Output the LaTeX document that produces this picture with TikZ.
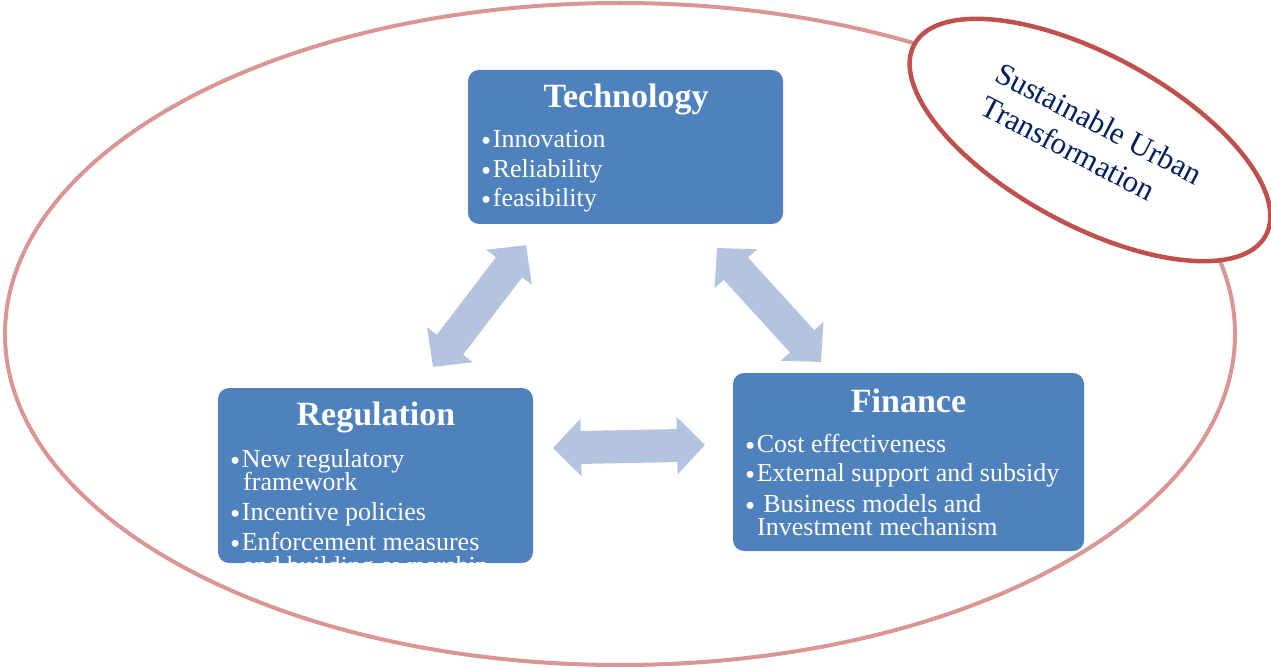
\documentclass[tikz,border=0pt]{standalone}
\usepackage{fontspec}
\setmainfont{Liberation Serif}
\usetikzlibrary{arrows.meta,shapes.geometric}
\definecolor{boxblue}{HTML}{4F81BD}
\definecolor{arrowblue}{RGB}{180,196,222}
\definecolor{bigring}{RGB}{217,150,148}
\definecolor{smallring}{HTML}{C0504D}
\definecolor{navytext}{HTML}{002060}
\newcommand\bigbul{\raisebox{-3pt}{\fontsize{29}{30}\selectfont•}\hspace{1.5pt}}
\begin{document}
\begin{tikzpicture}[x=1pt,y=-1pt,
  boxstyle/.style={draw=none, fill=boxblue, rounded corners=11pt, inner sep=0pt},
  titlestyle/.style={text=white, font=\fontsize{34}{38}\selectfont\bfseries, anchor=base, inner sep=0pt},
  itemstyle/.style={text=white, font=\fontsize{26}{30}\selectfont, anchor=base west, inner sep=0pt},
  dblarrow/.style={draw=arrowblue, line width=33pt, {Triangle[length=28pt,width=56pt]}-{Triangle[length=28pt,width=56pt]}},
  ringtext/.style={text=navytext, font=\fontsize{31}{36}\selectfont, anchor=base west, inner sep=0pt, rotate=-27.5}]
\useasboundingbox (0,0) rectangle (1271,668);

% outer ring
\node[draw=bigring, line width=4pt, ellipse, minimum width=1230pt, minimum height=662pt, inner sep=0pt] (outer) at (620,334) {};

% boxes
\node[boxstyle, minimum width=315pt, minimum height=154pt] (tech) at (625.5,147) {};
\node[boxstyle, minimum width=315pt, minimum height=175pt] (reg) at (375.5,475.5) {};
\node[boxstyle, minimum width=351pt, minimum height=178pt] (fin) at (908.5,462) {};

% Technology text
\node[titlestyle] (techt) at (626,108) {Technology};
\node[itemstyle] (tech1) at (481,148) {\bigbul Innovation};
\node[itemstyle] (tech2) at (481,178) {\bigbul Reliability};
\node[itemstyle] (tech3) at (481,207) {\bigbul feasibility};

% Regulation text (clipped to box)
\node[titlestyle] (regt) at (376,425) {Regulation};
\begin{scope}
\clip[rounded corners=11pt] (218,388) rectangle (533,563);
\node[itemstyle] (reg1) at (230,467) {\bigbul New regulatory};
\node[itemstyle] (reg1b) at (243,490) {framework};
\node[itemstyle] (reg2) at (230,520) {\bigbul Incentive policies};
\node[itemstyle] (reg3) at (230,550) {\bigbul Enforcement measures};
\node[itemstyle] (reg3b) at (243,574) {and building ownership};
\end{scope}

% Finance text
\node[titlestyle] (fint) at (908.5,412) {Finance};
\node[itemstyle] (fin1) at (745,452) {\bigbul Cost effectiveness};
\node[itemstyle] (fin2) at (745,481) {\bigbul External support and subsidy};
\node[itemstyle] (fin3) at (745,512) {\bigbul\ Business models and};
\node[itemstyle] (fin3b) at (757,535) {Investment mechanism};

% arrows
\coordinate (a1s) at (433,367);
\coordinate (a1e) at (526,245);
\coordinate (a2s) at (717,248);
\coordinate (a2e) at (821,362);
\coordinate (a3s) at (553,448);
\coordinate (a3e) at (705,445);
\draw[dblarrow] (a1s) -- (a1e);
\draw[dblarrow] (a2s) -- (a2e);
\draw[dblarrow] (a3s) -- (a3e);

% small ring
\node[draw=smallring, fill=white, line width=4.5pt, ellipse, minimum width=400pt, minimum height=170pt, inner sep=0pt, rotate=-28.5] (sut) at (1090,140) {};
\node[ringtext] (sut1) at (993,80) {Sustainable Urban};
\node[ringtext] (sut2) at (978,113) {Transformation};
\end{tikzpicture}
\end{document}
